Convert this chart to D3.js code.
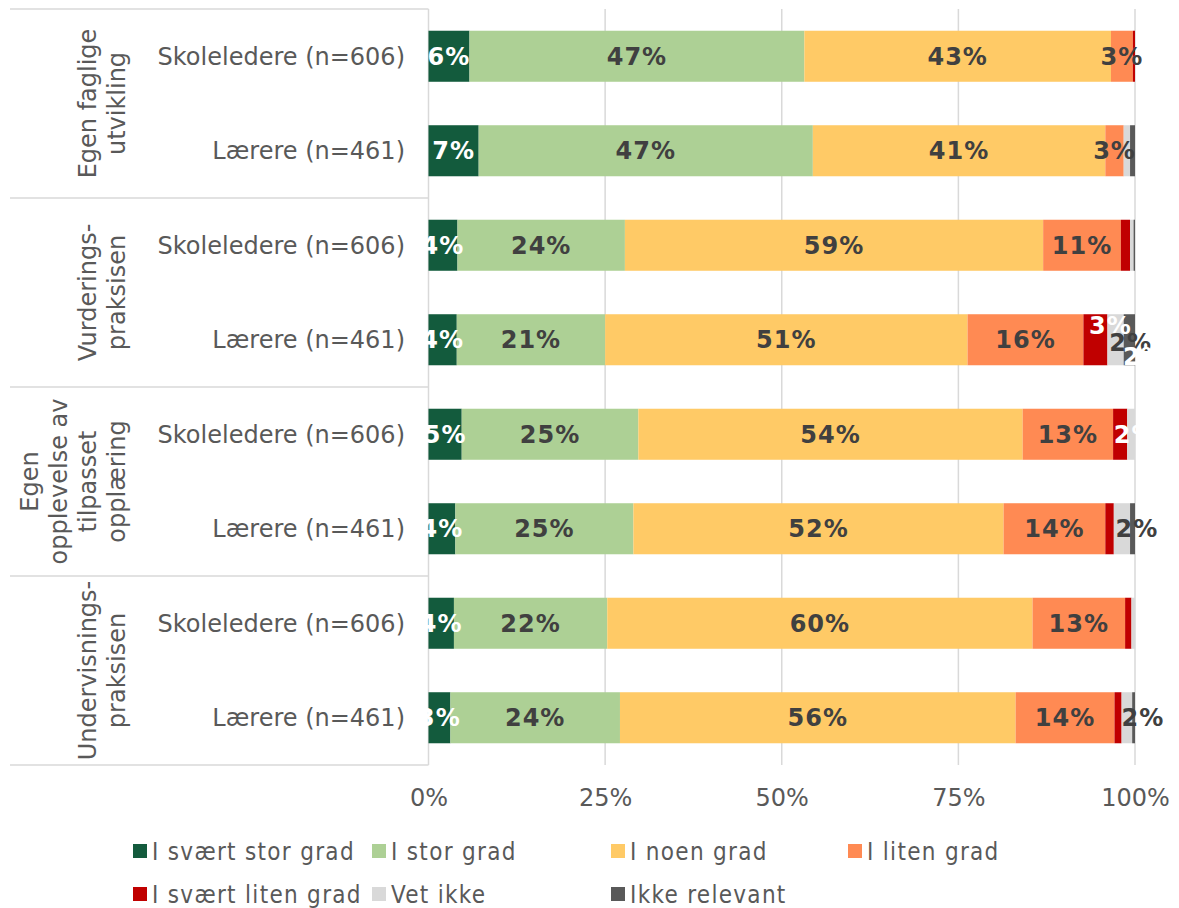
<!DOCTYPE html>
<html>
<head>
<meta charset="utf-8">
<script src="https://cdn.jsdelivr.net/npm/d3@7"></script>
<style>
  body { margin: 0; background: #fff; }
  svg { display: block; font-family: "DejaVu Sans", Verdana, sans-serif; }
</style>
</head>
<body>
<div id="chart"></div>
<script>
// row labels (top to bottom) and the group each pair belongs to
const rowLabels = ["Skoleledere (n=606)", "Lærere (n=461)", "Skoleledere (n=606)", "Lærere (n=461)",
                   "Skoleledere (n=606)", "Lærere (n=461)", "Skoleledere (n=606)", "Lærere (n=461)"];
const groupLabels = [
  ["Egen faglige", "utvikling"],
  ["Vurderings-", "praksisen"],
  ["Egen", "opplevelse av", "tilpasset", "opplæring"],
  ["Undervisnings-", "praksisen"]
];

const seriesNames = ["I svært stor grad", "I stor grad", "I noen grad", "I liten grad",
                     "I svært liten grad", "Vet ikke", "Ikke relevant"];

// percent per row, one array per answer
const svaertStor   = [5.8, 7.1, 4.1, 4.0, 4.7, 3.8, 3.6, 3.1];
const stor         = [47.4, 47.3, 23.7, 21.0, 25.0, 25.2, 21.7, 24.0];
const noen         = [43.4, 41.4, 59.2, 51.3, 54.4, 52.4, 60.2, 56.0];
const liten        = [3.1, 2.6, 11.0, 16.4, 12.8, 14.4, 13.1, 14.0];
const svaertLiten  = [0.3, 0.0, 1.3, 3.4, 2.0, 1.2, 0.9, 1.0];
const vetIkke      = [0.0, 0.9, 0.5, 2.3, 1.1, 2.3, 0.5, 1.5];
const ikkeRelevant = [0.0, 0.7, 0.2, 1.6, 0.0, 0.7, 0.0, 0.4];

const xTicks = [0, 25, 50, 75, 100];

const seriesValues = [svaertStor, stor, noen, liten, svaertLiten, vetIkke, ikkeRelevant];
const colors = ["#135B3D", "#ADD095", "#FFCA66", "#FF8A53", "#C00000", "#D9D9D9", "#595959"];
const labelColors = ["#fff", "#404040", "#404040", "#404040", "#fff", "#404040", "#fff"];

// hand-moved labels on the thin segments (row, series) -> shift
const nudges = {
  "3,4": [15, -14], "3,5": [15, 3], "3,6": [15, 17],
  "4,4": [15, 0], "5,5": [15, 0], "7,5": [16, 0]
};

const width = 1179, height = 908;
const plot = { left: 428.5, right: 1135, top: 9, bottom: 765 };

const svg = d3.select("#chart").append("svg")
  .attr("width", width)
  .attr("height", height);

const x = d3.scaleLinear().domain([0, 100]).range([plot.left, plot.right]);
const y = d3.scaleBand()
  .domain(d3.range(rowLabels.length))
  .range([plot.top, plot.bottom])
  .paddingInner(0.46)
  .paddingOuter(0.23);

const grid = "#D9D9D9";

// gridlines + zero line
svg.append("g")
  .selectAll("line")
  .data(xTicks)
  .join("line")
  .attr("x1", d => x(d)).attr("x2", d => x(d))
  .attr("y1", plot.top).attr("y2", plot.bottom)
  .attr("stroke", grid)
  .attr("stroke-width", 1.5);

// group separators on the left
const step = y.step();
svg.append("g")
  .selectAll("line")
  .data(d3.range(groupLabels.length + 1))
  .join("line")
  .attr("x1", 10).attr("x2", plot.left)
  .attr("y1", i => plot.top + i * 2 * step)
  .attr("y2", i => plot.top + i * 2 * step)
  .attr("stroke", grid)
  .attr("stroke-width", 1.5);

// stacked segments
const segments = [];
rowLabels.forEach((_, r) => {
  let acc = 0;
  seriesValues.forEach((vals, s) => {
    const v = vals[r];
    segments.push({ row: r, series: s, x0: acc, x1: acc + v, value: v });
    acc += v;
  });
});

svg.append("g")
  .selectAll("rect")
  .data(segments.filter(d => d.value > 0))
  .join("rect")
  .attr("x", d => x(d.x0))
  .attr("y", d => y(d.row))
  .attr("width", d => x(d.x1) - x(d.x0))
  .attr("height", y.bandwidth())
  .attr("fill", d => colors[d.series]);

// value labels
svg.append("g")
  .selectAll("text")
  .data(segments.filter(d => Math.round(d.value) >= 2))
  .join("text")
  .attr("x", d => (x(d.x0) + x(d.x1)) / 2 + (nudges[d.row + "," + d.series] || [0, 0])[0])
  .attr("y", d => y(d.row) + y.bandwidth() / 2 + (nudges[d.row + "," + d.series] || [0, 0])[1])
  .attr("dy", "0.36em")
  .attr("text-anchor", "middle")
  .attr("font-size", "24px")
  .attr("font-weight", "bold")
  .attr("letter-spacing", "1px")
  .attr("fill", d => labelColors[d.series])
  .text(d => Math.round(d.value) + "%");

// row labels
svg.append("g")
  .selectAll("text")
  .data(rowLabels)
  .join("text")
  .attr("x", 405)
  .attr("y", (_, i) => y(i) + y.bandwidth() / 2)
  .attr("dy", "0.36em")
  .attr("text-anchor", "end")
  .attr("font-size", "24px")
  .attr("fill", "#595959")
  .text(d => d);

// rotated group labels, last line anchored at the same x
const lineGap = 29;
groupLabels.forEach((lines, g) => {
  const yc = plot.top + (g * 2 + 1) * step;
  svg.append("text")
    .attr("transform", `translate(125,${yc}) rotate(-90)`)
    .attr("text-anchor", "middle")
    .attr("font-size", "24px")
    .attr("fill", "#595959")
    .selectAll("tspan")
    .data(lines)
    .join("tspan")
    .attr("x", 0)
    .attr("y", (_, i) => -(lines.length - 1 - i) * lineGap)
    .text(d => d);
});

// x axis
svg.append("g")
  .attr("transform", `translate(0,${plot.bottom})`)
  .call(d3.axisBottom(x).tickValues(xTicks).tickSize(0).tickPadding(24).tickFormat(d => d + "%"))
  .call(g => g.select(".domain").remove())
  .selectAll("text")
  .attr("font-family", "DejaVu Sans, Verdana, sans-serif")
  .attr("font-size", "24px")
  .attr("fill", "#595959");

// legend, 4 columns
const legendX = [133, 372, 611, 848];
const legendY = [851, 894];
const legend = svg.append("g")
  .selectAll("g")
  .data(seriesNames)
  .join("g")
  .attr("transform", (_, i) => `translate(${legendX[i % 4]},${legendY[Math.floor(i / 4)]})`);

legend.append("rect")
  .attr("x", 0).attr("y", -7)
  .attr("width", 14).attr("height", 14)
  .attr("fill", (_, i) => colors[i]);

legend.append("text")
  .attr("x", 19)
  .attr("dy", "0.36em")
  .attr("font-family", "DejaVu Sans Condensed, DejaVu Sans, sans-serif")
  .attr("font-stretch", "condensed")
  .attr("font-size", "24px")
  .attr("letter-spacing", "1.3px")
  .attr("fill", "#595959")
  .text(d => d);
</script>
</body>
</html>
